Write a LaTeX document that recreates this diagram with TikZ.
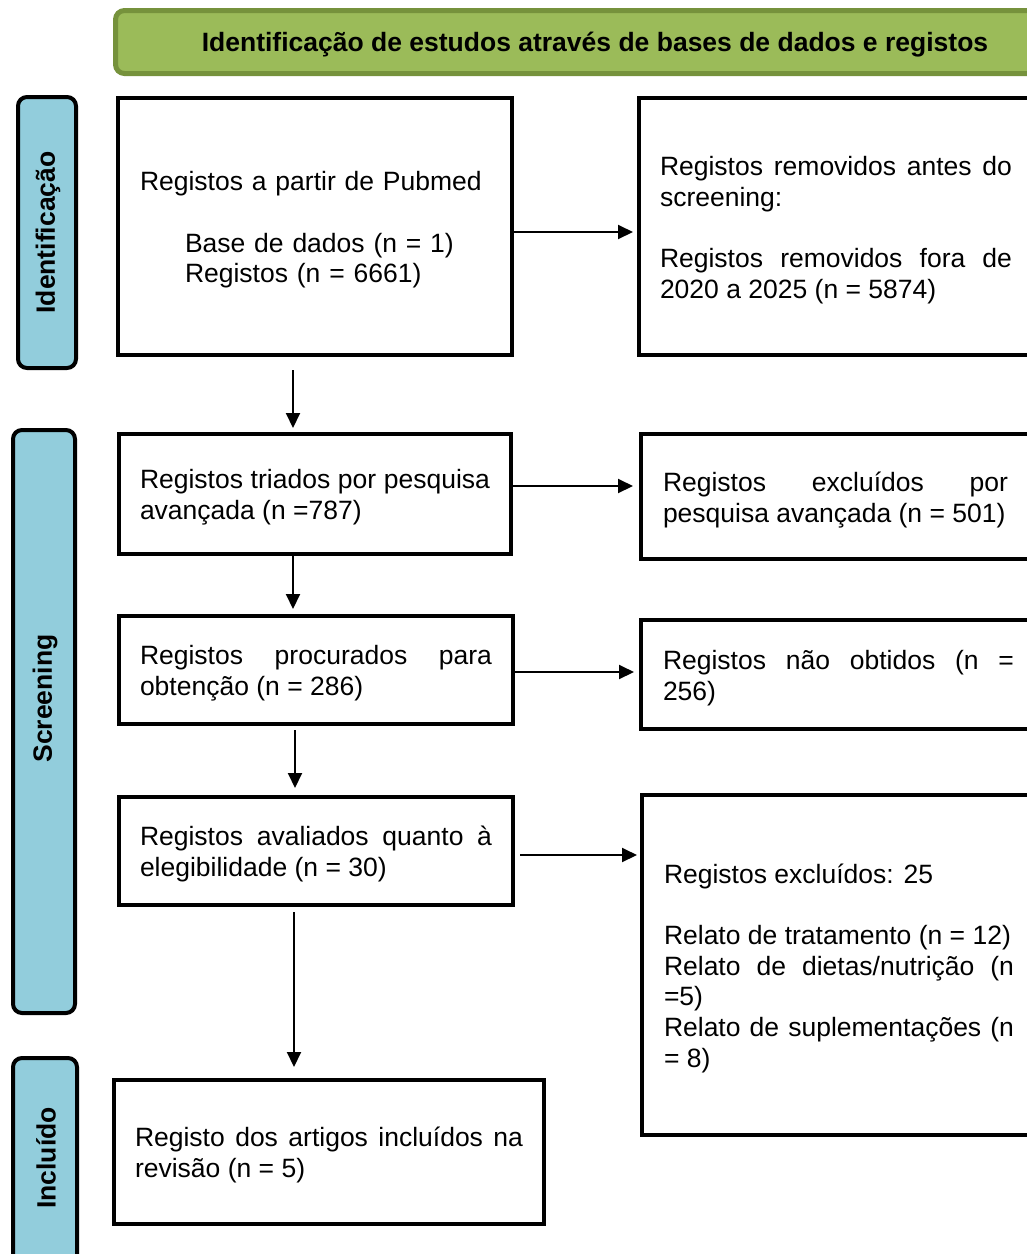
\documentclass[tikz,border=0pt]{standalone}
\usepackage{fontspec}
\setmainfont{Liberation Sans}
\usetikzlibrary{arrows.meta}
\definecolor{hdrfill}{HTML}{9BBB59}
\definecolor{hdrline}{HTML}{76923C}
\definecolor{barfill}{HTML}{92CDDC}
\newcommand{\toppad}{\rule{0pt}{26pt}}
\tikzset{
  box/.style={draw, line width=4pt, anchor=north west, align=justify, inner ysep=0pt,
    font=\fontsize{26.5}{30.7}\selectfont},
  sidebar/.style={draw, line width=4pt, fill=barfill, rounded corners=9pt, rotate=90},
  sidelabel/.style={rotate=90, font=\fontsize{26.5}{30}\selectfont\bfseries, inner sep=0pt},
  arr/.style={line width=2pt, -{Triangle[length=15pt,width=14pt]}}
}
\begin{document}
\begin{tikzpicture}[x=1pt,y=-1pt]
\useasboundingbox (0,0) rectangle (1027,1254);
\clip (0,0) rectangle (1027,1254);

% header
\node[draw=hdrline, line width=5pt, fill=hdrfill, rounded corners=9pt, anchor=north west,
  minimum width=959pt, minimum height=63pt, text depth=0pt, font=\fontsize{26.5}{30}\selectfont\bfseries]
  (hdr) at (113,8) {Identificação de estudos através de bases de dados e registos};

% side bars
\node[sidebar, minimum width=271pt, minimum height=58pt] (barA) at (47,232.5) {};
\node[sidelabel] (labA) at (48,232.5) {Identificação};
\node[sidebar, minimum width=583pt, minimum height=62pt] (barB) at (44,721.5) {};
\node[sidelabel] (labB) at (45,698.5) {Screening};
\node[sidebar, minimum width=220pt, minimum height=64pt] (barC) at (45,1168) {};
\node[sidelabel] (labC) at (46,1158) {Incluído};

% boxes
\node[box, align=left, text width=350pt, inner xsep=22pt, minimum height=257pt] (b1) at (116,96)
  {\toppad Registos a partir de Pubmed\\[30.7pt]\hspace*{45pt}Base de dados (n = 1)\\\hspace*{45pt}Registos (n = 6661)};
\node[box, text width=352pt, inner xsep=21pt, minimum height=257pt] (b2) at (637,96)
  {\toppad Registos removidos antes do\linebreak screening:\\[30.7pt]Registos removidos fora de\linebreak 2020 a 2025 (n = 5874)};
\node[box, text width=350pt, inner xsep=21pt, minimum height=120pt] (b3) at (117,432)
  {\toppad Registos triados por pesquisa\linebreak avançada (n =787)};
\node[box, text width=345pt, inner xsep=22pt, minimum height=125pt] (b4) at (639,432)
  {\toppad Registos excluídos por\linebreak pesquisa avançada (n = 501)};
\node[box, text width=352pt, inner xsep=21pt, minimum height=108pt] (b5) at (117,614)
  {\toppad Registos procurados para\linebreak obtenção (n = 286)};
\node[box, text width=351pt, inner xsep=22pt, minimum height=109pt] (b6) at (639,618)
  {\toppad Registos não obtidos (n =\linebreak 256)};
\node[box, text width=352pt, inner xsep=21pt, minimum height=108pt] (b7) at (117,795)
  {\toppad Registos avaliados quanto à\linebreak elegibilidade (n = 30)};
\node[box, text width=350pt, inner xsep=22pt, minimum height=340pt] (b8) at (640,793)
  {\toppad Registos excluídos: 25\\[30.7pt]Relato de tratamento (n = 12)\\Relato de dietas/nutrição (n\linebreak =5)\\Relato de suplementações (n\linebreak = 8)};
\node[box, text width=388pt, inner xsep=21pt, minimum height=144pt] (b9) at (112,1078)
  {\toppad Registo dos artigos incluídos na\linebreak revisão (n = 5)};

% horizontal arrows
\draw[arr, shorten >=4pt] (b1.east |- 0,232) -- (b2.west |- 0,232);
\draw[arr, shorten >=6pt] (b3.east |- 0,486) -- (b4.west |- 0,486);
\draw[arr, shorten >=5pt] (b5.east |- 0,672) -- (b6.west |- 0,672);
\draw[arr, shorten <=5pt, shorten >=3pt] (b7.east |- 0,855) -- (b8.west |- 0,855);

% vertical arrows
\draw[arr, shorten <=13pt, shorten >=4pt] (b1.south -| 293,0) -- (b3.north -| 293,0);
\draw[arr, shorten >=5pt] (b3.south -| 293,0) -- (b5.north -| 293,0);
\draw[arr, shorten <=4pt, shorten >=7pt] (b5.south -| 295,0) -- (b7.north -| 295,0);
\draw[arr, shorten <=5pt, shorten >=11pt] (b7.south -| 294,0) -- (b9.north -| 294,0);
\end{tikzpicture}
\end{document}
